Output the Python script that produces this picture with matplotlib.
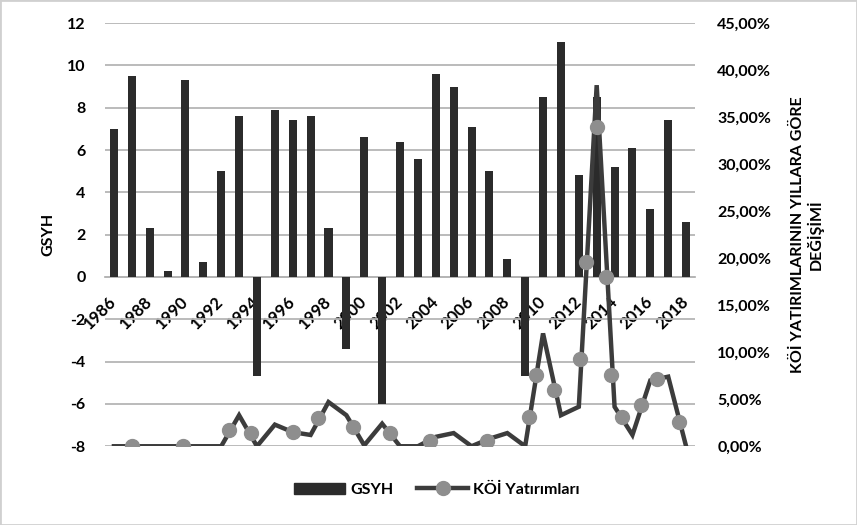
import matplotlib
matplotlib.use("Agg")
import matplotlib.pyplot as plt
from matplotlib.patches import Patch, Rectangle
from matplotlib.lines import Line2D
from matplotlib.ticker import FuncFormatter, MultipleLocator

plt.rcParams["font.family"] = ["Lato", "DejaVu Sans"]
plt.rcParams["font.weight"] = "bold"
plt.rcParams["axes.unicode_minus"] = False

years = list(range(1986, 2019))
gsyh = [7.0, 9.5, 2.3, 0.3, 9.3, 0.7, 5.0, 7.6, -4.7, 7.9, 7.4, 7.6, 2.3, -3.4, 6.6, -6.0,
        6.4, 5.6, 9.6, 9.0, 7.1, 5.0, 0.85, -4.7, 8.5, 11.1, 4.8, 8.5, 5.2, 6.1, 3.2, 7.4, 2.6]
koi = [0, 0, 0, 0, 0, 0, 0, 3.3, 0, 2.3, 1.5, 1.2, 4.7, 3.3, 0.1, 2.4,
       0, 0, 1.0, 1.4, 0, 0.8, 1.4, 0, 12.0, 3.3, 4.2, 38.4, 4.2, 1.2, 7.0, 7.4, 0]
# marker positions (fractional years, percent)
marker_years = [1987.0, 1989.85, 1992.41, 1993.64, 1996.03, 1997.43, 1999.38, 2001.44,
                2003.67, 2006.85, 2009.19, 2009.58, 2010.64, 2012.09, 2012.42, 2013.03,
                2013.54, 2013.82, 2014.43, 2015.49, 2016.38, 2017.61]
marker_vals = [0, 0, 1.7, 1.4, 1.5, 3.0, 2.0, 1.4, 0.6, 0.6, 3.1, 7.6, 6.0, 9.3, 19.6, 34.0,
               18.0, 7.6, 3.1, 4.4, 7.1, 2.6]
tick_years = years[::2]

bar_color = "#2b2b2b"
line_color = "#3c3c3c"
marker_color = "#8e8e8e"

fig = plt.figure(figsize=(8.57, 5.25), dpi=100)
ax = fig.add_axes([0.1225, 0.150, 0.6885, 0.806])
x = [y - years[0] for y in years]
ax.bar(x, gsyh, width=0.45, color=bar_color, zorder=3)
ax.set_xlim(-0.5, len(years) - 0.5)
ax.set_ylim(-8, 12)
ax.yaxis.set_major_locator(MultipleLocator(2))
ax.grid(axis="y", color="#b5b5b5", linewidth=1.3, zorder=0)
ax.set_axisbelow(True)
for s in ["top", "right", "left"]:
    ax.spines[s].set_visible(False)
ax.spines["bottom"].set_position(("data", 0))
ax.spines["bottom"].set_color("#b5b5b5")
ax.spines["bottom"].set_linewidth(1.3)
ax.set_xticks([y - years[0] for y in tick_years])
ax.set_xticklabels([str(y) for y in tick_years], rotation=45, ha="right", va="center",
                   rotation_mode="anchor", fontsize=12)
ax.tick_params(axis="x", length=0, pad=16)
ax.tick_params(axis="y", length=0, labelsize=11.5, pad=14)
ax.set_ylabel("GSYH", fontsize=11.5, fontweight="bold", labelpad=8)

ax2 = ax.twinx()
ax2.set_ylim(0, 45)
ax2.yaxis.set_major_locator(MultipleLocator(5))
ax2.yaxis.set_major_formatter(FuncFormatter(lambda v, p: f"{v:.2f}%".replace(".", ",")))
ax2.tick_params(axis="y", length=0, labelsize=11.5, pad=16)
for s in ax2.spines.values():
    s.set_visible(False)
ax2.plot(x, koi, color=line_color, linewidth=3.2, solid_joinstyle="miter", zorder=4)
ax2.plot([m - years[0] for m in marker_years], marker_vals, linestyle="none", marker="o",
         markersize=10, color=marker_color, zorder=5)
ax2.set_ylabel("KÖİ YATIRIMLARININ YILLARA GÖRE\nDEĞİŞİMİ", fontsize=11.5, fontweight="bold",
               rotation=90, labelpad=14, linespacing=1.1)

handles = [Patch(color=bar_color),
           Line2D([0], [0], color=line_color, linewidth=3.2, marker="o", markersize=10,
                  markerfacecolor=marker_color, markeredgecolor=marker_color)]
fig.legend(handles, ["GSYH", "KÖİ Yatırımları"], loc="center", bbox_to_anchor=(0.51, 0.067),
           ncol=2, frameon=False, fontsize=11.5, handlelength=3.2, columnspacing=1.5,
           handletextpad=0.3)

fig.patches.append(Rectangle((0, 0), 1, 1, transform=fig.transFigure, fill=False,
                             edgecolor="#d0d0d0", linewidth=2))
fig.savefig("out.png", dpi=100)
